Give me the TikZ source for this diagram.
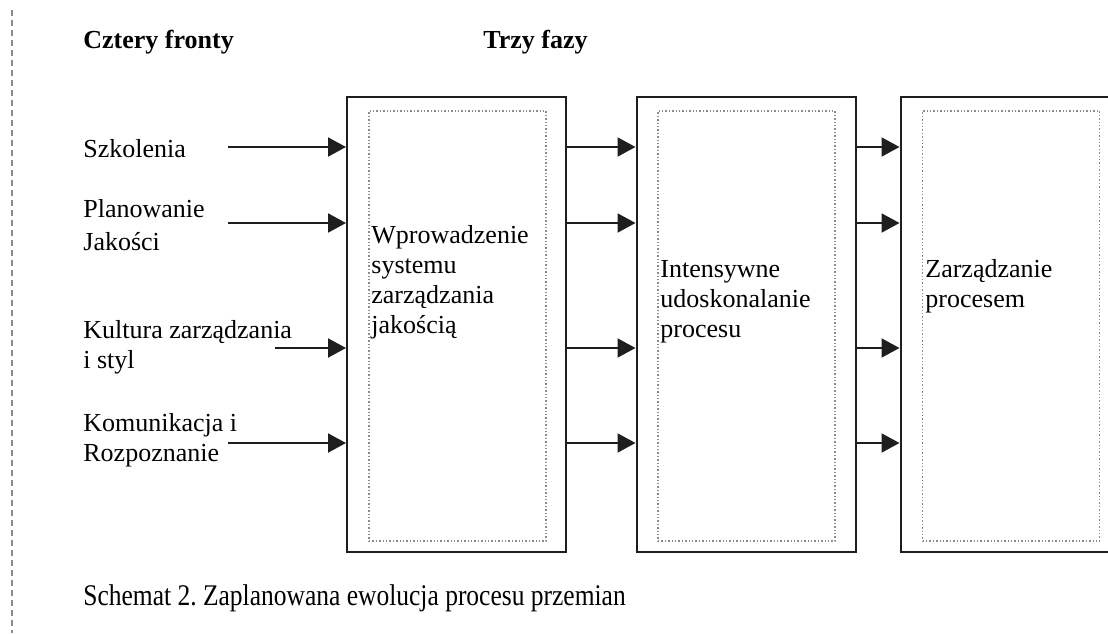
\documentclass[tikz,border=0pt]{standalone}
\usepackage{fontspec}
\setmainfont{Liberation Serif}
\newfontfamily\capfont[FakeStretch=0.85]{Liberation Serif}
\usetikzlibrary{
    arrows.meta,
    positioning
}
\definecolor{schemaline}{RGB}{30,30,30}
\definecolor{schemadot}{RGB}{140,140,140}

\begin{document}
\begin{tikzpicture}[
        x=0.5pt, y=-0.5pt,
        font=\fontsize{13}{15}\selectfont,
        phase/.style={
            draw=schemaline,
            line width=1pt,
            minimum width=109.5pt,
            minimum height=227.5pt,
            inner sep=0pt
        },
        phasein/.style={
            draw=schemadot,
            densely dotted,
            line width=0.7pt,
            minimum width=88.5pt,
            minimum height=215pt,
            inner sep=0pt
        },
        label/.style={
            anchor=base west,
            align=left,
            inner sep=0pt
        },
        arrow/.style={
            -{Triangle[length=9pt,width=9.5pt]},
            line width=1pt,
            draw=schemaline
        }
    ]

    \useasboundingbox (0,0) rectangle (1108,633);
    \clip (0,0) rectangle (1108,633);

    % margin rule
    \draw[schemadot, densely dashed, line width=0.8pt] (12,10) -- (12,633);

    \node[label, font=\fontsize{13}{15}\selectfont\bfseries] (fronts) at (83,48) {Cztery fronty};
    \node[label, font=\fontsize{13}{15}\selectfont\bfseries] (phases) at (483,48) {Trzy fazy};

    % phases
    \node[phase] (box1) at (456.5,324.5) {};
    \node[phase] (box2) at (746,324.5) {};
    \node[phase] (box3) at (1010,324.5) {};

    \node[phasein] (inner1) at (457.5,326) {};
    \node[phasein] (inner2) at (746.5,326) {};
    \node[phasein] (inner3) at (1011,326) {};

    % base anchor sits on the last line
    \node[label] (text1) at (371,333) {Wprowadzenie\\systemu\\zarządzania\\jakością};
    \node[label] (text2) at (660,337) {Intensywne\\udoskonalanie\\procesu};
    \node[label] (text3) at (925,307) {Zarządzanie\\procesem};

    % fronts
    \node[label] (train) at (83,157) {Szkolenia};
    \node[label] (plan) at (83,250) {Planowanie\\[1.5pt]Jakości};
    \node[label] (culture) at (83,368) {Kultura zarządzania\\i styl};
    \node[label] (comm) at (83,461) {Komunikacja i\\Rozpoznanie};

    \coordinate (in1) at (228,147);
    \coordinate (in2) at (228,223);
    \coordinate (in3) at (275,348);
    \coordinate (in4) at (228,443);

    \draw[arrow] (in1) -- (in1 -| box1.west);
    \draw[arrow] (in2) -- (in2 -| box1.west);
    \draw[arrow] (in3) -- (in3 -| box1.west);
    \draw[arrow] (in4) -- (in4 -| box1.west);

    \draw[arrow] (box1.east |- in1) -- (box2.west |- in1);
    \draw[arrow] (box1.east |- in2) -- (box2.west |- in2);
    \draw[arrow] (box1.east |- in3) -- (box2.west |- in3);
    \draw[arrow] (box1.east |- in4) -- (box2.west |- in4);

    \draw[arrow] (box2.east |- in1) -- (box3.west |- in1);
    \draw[arrow] (box2.east |- in2) -- (box3.west |- in2);
    \draw[arrow] (box2.east |- in3) -- (box3.west |- in3);
    \draw[arrow] (box2.east |- in4) -- (box3.west |- in4);

    \node[label, font=\fontsize{15}{18}\capfont] (caption) at (83,605) {Schemat 2.\ Zaplanowana ewolucja procesu przemian};

    \end{tikzpicture}
\end{document}
